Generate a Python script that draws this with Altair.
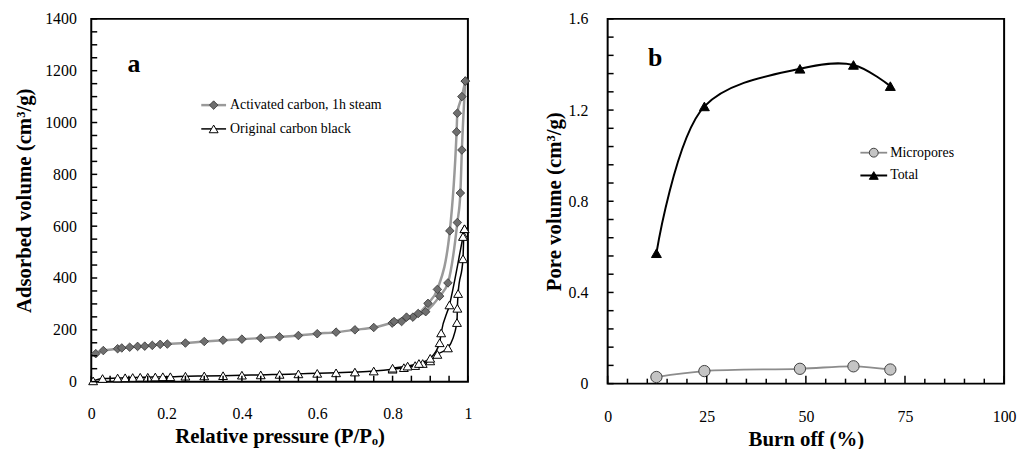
import altair as alt
import pandas as pd

FONT = "Liberation Serif"

# ---------------- panel a : isotherms ----------------
ac_ads_p = [0.012, 0.032, 0.070, 0.081, 0.102, 0.123, 0.142, 0.162, 0.183, 0.202,
            0.25, 0.30, 0.35, 0.40, 0.45, 0.50, 0.55, 0.60, 0.65, 0.70, 0.75,
            0.799, 0.824, 0.854, 0.888, 0.925, 0.947, 0.972, 0.980, 0.984, 0.993]
ac_ads_v = [108, 120, 127, 130, 133, 136, 137, 140, 144, 145,
            149, 155, 160, 164, 168, 173, 178, 185, 191, 200, 209,
            226, 232, 249, 270, 330, 381, 614, 728, 894, 1160]
ac_des_p = [0.804, 0.837, 0.868, 0.894, 0.919, 0.952, 0.970, 0.972, 0.984, 0.993]
ac_des_v = [232, 249, 263, 302, 356, 582, 964, 1036, 1100, 1160]

cb_ads_p = [0.005, 0.03, 0.07, 0.09, 0.11, 0.13, 0.15, 0.17, 0.19, 0.21,
            0.25, 0.30, 0.35, 0.40, 0.45, 0.50, 0.55, 0.60, 0.65, 0.70, 0.75,
            0.80, 0.83, 0.86, 0.88, 0.90, 0.919, 0.947, 0.971, 0.972, 0.974,
            0.987, 0.989, 0.991]
cb_ads_v = [3, 12, 14, 15, 16, 17, 17, 18, 19, 19,
            21, 22, 23, 25, 26, 28, 30, 32, 34, 37, 41,
            48, 54, 62, 70, 80, 105, 130, 228, 283, 340,
            474, 563, 590]
cb_des_p = [0.80, 0.84, 0.87, 0.90, 0.925, 0.929, 0.951, 0.987, 0.991]
cb_des_v = [52, 60, 70, 90, 150, 188, 296, 560, 590]

legend_a = ["Activated carbon, 1h steam", "Original carbon black"]

# ---------------- panel b : pore volumes ----------------
burn_off = [12.3, 24.4, 48.5, 62.0, 71.3]
micropores = [0.029, 0.055, 0.065, 0.076, 0.062]
total = [0.572, 1.216, 1.381, 1.398, 1.305]
legend_b = ["Micropores", "Total"]

# tick positions (tick values, placed at the axis origin)
a_xticks = [round(i * 0.05, 2) for i in range(21)]
a_yticks = [i * 50 for i in range(29)]
b_xticks_minor = [i * 5 for i in range(21) if i % 5]
b_xticks_major = [0, 25, 50, 75, 100]
b_yticks = [round(i * 0.08, 2) for i in range(21)]

W1, H1 = 380, 366
W2, H2 = 400, 368


def branch_df(p, v, branch):
    return pd.DataFrame({"P": p, "V": v, "branch": branch})


def ytick_layer(vals, xfield, yfield, xscale, yscale, x0, length):
    df = pd.DataFrame({yfield: vals, xfield: [x0] * len(vals)})
    return alt.Chart(df).mark_point(
        shape="stroke", filled=False, color="black", strokeWidth=1.5,
        size=length * length, opacity=1, xOffset=length / 2).encode(
        x=alt.X(f"{xfield}:Q", scale=xscale, axis=None),
        y=alt.Y(f"{yfield}:Q", scale=yscale, axis=None))


def xtick_layer(vals, xfield, yfield, xscale, yscale, y0, length):
    df = pd.DataFrame({xfield: vals, yfield: [y0] * len(vals)})
    return alt.Chart(df).mark_point(
        shape="stroke", filled=False, color="black", strokeWidth=1.5, angle=90,
        size=length * length, opacity=1, yOffset=-length / 2).encode(
        x=alt.X(f"{xfield}:Q", scale=xscale, axis=None),
        y=alt.Y(f"{yfield}:Q", scale=yscale, axis=None))


ac = pd.concat([branch_df(ac_ads_p, ac_ads_v, "ads"), branch_df(ac_des_p, ac_des_v, "des")])
cb = pd.concat([branch_df(cb_ads_p, cb_ads_v, "ads"), branch_df(cb_des_p, cb_des_v, "des")])

xa_scale = alt.Scale(domain=[0, 1], nice=False, zero=False)
ya_scale = alt.Scale(domain=[0, 1400], nice=False)

xa_ax = alt.X("P:Q", scale=xa_scale,
              axis=alt.Axis(values=[0, 0.2, 0.4, 0.6, 0.8, 1], format="~g",
                            title="Relative pressure (P/Pₒ)", labelPadding=24,
                            titlePadding=4, labelFlush=False))
ya_ax = alt.Y("V:Q", scale=ya_scale,
              axis=alt.Axis(values=[0, 200, 400, 600, 800, 1000, 1200, 1400], format="d",
                            title="Adsorbed volume (cm³/g)", labelPadding=15,
                            titlePadding=10))
xa = alt.X("P:Q", scale=xa_scale, axis=None)
ya = alt.Y("V:Q", scale=ya_scale, axis=None)

ac_line = alt.Chart(ac).mark_line(color="#9a9a9a", strokeWidth=2.5, interpolate="monotone").encode(
    x=xa_ax, y=ya_ax, detail="branch:N", order="P:Q")
cb_line = alt.Chart(cb).mark_line(color="black", strokeWidth=1.5, interpolate="monotone").encode(
    x=xa, y=ya, detail="branch:N", order="P:Q")
ac_pts = alt.Chart(ac).mark_point(shape="diamond", filled=True, fill="#6f6f6f", stroke="#333333",
                                  strokeWidth=0.8, size=75, opacity=1).encode(x=xa, y=ya)
cb_pts = alt.Chart(cb).mark_point(shape="triangle-up", filled=True, fill="white", stroke="black",
                                  strokeWidth=1, size=80, opacity=1).encode(x=xa, y=ya)

a_yt = ytick_layer(a_yticks, "P", "V", xa_scale, ya_scale, 0, 6)
a_xt = xtick_layer(a_xticks, "P", "V", xa_scale, ya_scale, 0, 6)

la1 = pd.DataFrame({"t": [legend_a[0]]})
la2 = pd.DataFrame({"t": [legend_a[1]]})
leg_a = [
    alt.Chart(la1).mark_rule(color="#9a9a9a", strokeWidth=2.5).encode(
        x=alt.value(111), x2=alt.value(136), y=alt.value(87)),
    alt.Chart(la1).mark_point(shape="diamond", filled=True, fill="#6f6f6f", stroke="#333333",
                              strokeWidth=0.8, size=75, opacity=1).encode(
        x=alt.value(123.5), y=alt.value(87)),
    alt.Chart(la1).mark_text(align="left", baseline="middle", font=FONT, fontSize=14, color="black").encode(
        x=alt.value(140), y=alt.value(87), text="t:N"),
    alt.Chart(la2).mark_rule(color="black", strokeWidth=1.5).encode(
        x=alt.value(111), x2=alt.value(136), y=alt.value(111)),
    alt.Chart(la2).mark_point(shape="triangle-up", filled=True, fill="white", stroke="black",
                              strokeWidth=1, size=80, opacity=1).encode(
        x=alt.value(123.5), y=alt.value(111)),
    alt.Chart(la2).mark_text(align="left", baseline="middle", font=FONT, fontSize=14, color="black").encode(
        x=alt.value(140), y=alt.value(111), text="t:N"),
]
lab_a = alt.Chart(pd.DataFrame({"t": ["a"]})).mark_text(
    font=FONT, fontSize=26, fontWeight="bold", baseline="alphabetic", color="black").encode(
    x=alt.value(43), y=alt.value(54), text="t:N")

left = alt.layer(ac_line, cb_line, ac_pts, cb_pts, a_yt, a_xt, *leg_a, lab_a).properties(
    width=W1, height=H1).resolve_axis(x="independent", y="independent")

# ---------------- panel b ----------------
bdf = pd.DataFrame({"B": burn_off + burn_off,
                    "PV": micropores + total,
                    "series": ["Micropores"] * len(burn_off) + ["Total"] * len(burn_off)})
mic = bdf[bdf.series == "Micropores"]
tot = bdf[bdf.series == "Total"]

xb_scale = alt.Scale(domain=[0, 100], nice=False)
yb_scale = alt.Scale(domain=[0, 1.6], nice=False)
xb_ax = alt.X("B:Q", scale=xb_scale,
              axis=alt.Axis(values=[0, 25, 50, 75, 100], title="Burn off (%)", labelPadding=25,
                            titlePadding=4, labelFlush=False))
yb_ax = alt.Y("PV:Q", scale=yb_scale,
              axis=alt.Axis(values=[0, 0.4, 0.8, 1.2, 1.6], format="~g",
                            title="Pore volume (cm³/g)", labelPadding=20, titlePadding=4))
xb = alt.X("B:Q", scale=xb_scale, axis=None)
yb = alt.Y("PV:Q", scale=yb_scale, axis=None)

mic_line = alt.Chart(mic).mark_line(color="#8c8c8c", strokeWidth=1.8, interpolate="catmull-rom").encode(
    x=xb_ax, y=yb_ax, order="B:Q")
tot_line = alt.Chart(tot).mark_line(color="black", strokeWidth=2, interpolate="catmull-rom").encode(
    x=xb, y=yb, order="B:Q")
mic_pts = alt.Chart(mic).mark_point(shape="circle", filled=True, fill="#c4c4c4", stroke="#404040",
                                    strokeWidth=1, size=130, opacity=1).encode(x=xb, y=yb)
tot_pts = alt.Chart(tot).mark_point(shape="triangle-up", filled=True, fill="black", stroke="black",
                                    strokeWidth=1, size=100, opacity=1).encode(x=xb, y=yb)

b_yt = ytick_layer(b_yticks, "B", "PV", xb_scale, yb_scale, 0, 6)
b_xt1 = xtick_layer(b_xticks_minor, "B", "PV", xb_scale, yb_scale, 0, 5)
b_xt2 = xtick_layer(b_xticks_major, "B", "PV", xb_scale, yb_scale, 0, 8)

lb1 = pd.DataFrame({"t": [legend_b[0]]})
lb2 = pd.DataFrame({"t": [legend_b[1]]})
leg_b = [
    alt.Chart(lb1).mark_rule(color="#8c8c8c", strokeWidth=1.8).encode(
        x=alt.value(255), x2=alt.value(282), y=alt.value(135)),
    alt.Chart(lb1).mark_point(shape="circle", filled=True, fill="#c4c4c4", stroke="#404040",
                              strokeWidth=1, size=80, opacity=1).encode(
        x=alt.value(268.5), y=alt.value(135)),
    alt.Chart(lb1).mark_text(align="left", baseline="middle", font=FONT, fontSize=14, color="black").encode(
        x=alt.value(285), y=alt.value(135), text="t:N"),
    alt.Chart(lb2).mark_rule(color="black", strokeWidth=2).encode(
        x=alt.value(255), x2=alt.value(282), y=alt.value(158)),
    alt.Chart(lb2).mark_point(shape="triangle-up", filled=True, fill="black", stroke="black",
                              strokeWidth=1, size=80, opacity=1).encode(
        x=alt.value(268.5), y=alt.value(158)),
    alt.Chart(lb2).mark_text(align="left", baseline="middle", font=FONT, fontSize=14, color="black").encode(
        x=alt.value(285), y=alt.value(158), text="t:N"),
]
lab_b = alt.Chart(pd.DataFrame({"t": ["b"]})).mark_text(
    font=FONT, fontSize=26, fontWeight="bold", baseline="alphabetic", color="black").encode(
    x=alt.value(48), y=alt.value(48), text="t:N")

right = alt.layer(mic_line, tot_line, mic_pts, tot_pts, b_yt, b_xt1, b_xt2, *leg_b, lab_b).properties(
    width=W2, height=H2).resolve_axis(x="independent", y="independent")

chart = alt.hconcat(left, right, spacing=70).properties(
    padding={"left": 5, "top": 0, "right": 0, "bottom": 0}
).configure_view(stroke="black", strokeWidth=2).configure_axis(
    grid=False, domain=False, ticks=False, tickSize=0,
    labelFont=FONT, labelFontSize=16, labelColor="black",
    titleFont=FONT, titleFontSize=21, titleFontWeight="bold", titleColor="black"
)

chart.save("out.html", embed_options={"renderer": "svg", "actions": False})
